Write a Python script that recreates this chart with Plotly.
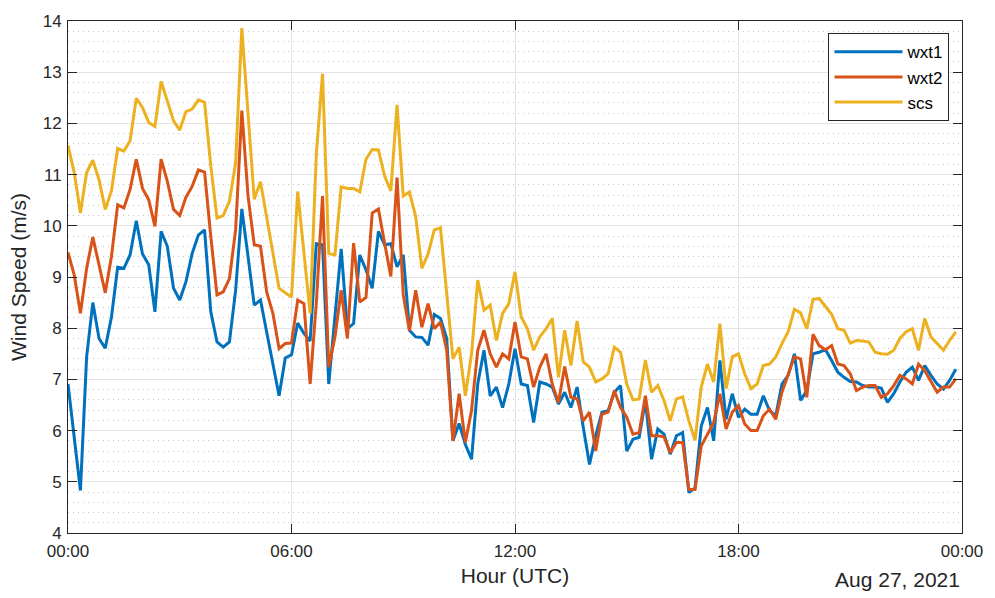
import pandas as pd
import plotly.graph_objects as go

# 10-minute wind speed samples for 27 Aug 2021 (UTC), m/s
start = "2021-08-27 00:00"
n_samples = 144

wxt1 = [6.91, 5.9, 4.83, 7.44, 8.5, 7.8, 7.61, 8.22, 9.19, 9.17,
        9.43, 10.1, 9.45, 9.24, 8.32, 9.89, 9.6, 8.78, 8.55, 8.91,
        9.46, 9.82, 9.92, 8.32, 7.73, 7.63, 7.73, 8.74, 10.33, 9.4,
        8.45, 8.55, 7.96, 7.3, 6.68, 7.42, 7.48, 8.1, 7.9, 7.75,
        9.65, 9.63, 6.91, 8.2, 9.55, 7.99, 8.09, 9.43, 9.14, 8.78,
        9.89, 9.63, 9.65, 9.2, 9.43, 7.96, 7.83, 7.82, 7.67, 8.27,
        8.19, 7.8, 5.8, 6.14, 5.73, 5.44, 6.91, 7.57, 6.68, 6.85,
        6.45, 6.91, 7.6, 6.91, 6.88, 6.16, 6.95, 6.91, 6.85, 6.52,
        6.75, 6.45, 6.85, 6.06, 5.34, 5.9, 6.36, 6.39, 6.75, 6.88,
        5.6, 5.83, 5.87, 6.59, 5.44, 6.03, 5.93, 5.54, 5.9, 5.96,
        4.79, 4.88, 6.09, 6.45, 5.8, 7.37, 6.22, 6.72, 6.26, 6.42,
        6.32, 6.32, 6.68, 6.39, 6.29, 6.91, 7.08, 7.5, 6.59, 6.78,
        7.5, 7.53, 7.58, 7.37, 7.14, 7.04, 6.96, 6.95, 6.88, 6.85,
        6.85, 6.83, 6.55, 6.72, 6.95, 7.14, 7.24, 6.98, 7.27, 7.08,
        6.91, 6.81, 6.98, 7.2]

wxt2 = [9.48, 9.04, 8.29, 9.17, 9.78, 9.24, 8.69, 9.4, 10.41, 10.35,
        10.71, 11.3, 10.73, 10.51, 9.99, 11.3, 10.87, 10.32, 10.2, 10.56,
        10.77, 11.09, 11.05, 9.79, 8.65, 8.71, 8.97, 9.92, 12.25, 10.58,
        9.63, 9.6, 8.71, 8.29, 7.6, 7.7, 7.71, 8.55, 8.48, 6.91,
        8.5, 10.58, 7.24, 7.83, 8.74, 7.8, 9.66, 8.51, 8.6, 10.25,
        10.33, 9.66, 9.01, 10.94, 8.65, 7.95, 8.74, 8.02, 8.48, 7.99,
        8.12, 7.57, 5.8, 6.72, 5.77, 6.39, 7.57, 7.96, 7.5, 7.24,
        7.5, 7.4, 8.12, 7.44, 7.4, 6.85, 7.24, 7.5, 6.91, 6.55,
        7.25, 6.65, 6.62, 6.19, 6.36, 5.6, 6.32, 6.36, 6.78, 6.45,
        6.26, 5.93, 5.96, 6.68, 5.9, 5.9, 5.88, 5.57, 5.77, 5.77,
        4.85, 4.85, 5.7, 5.93, 6.16, 6.72, 6.03, 6.36, 6.49, 6.13,
        6.0, 6.0, 6.29, 6.42, 6.22, 6.75, 7.08, 7.44, 7.4, 6.65,
        7.88, 7.66, 7.58, 7.66, 7.3, 7.27, 7.11, 6.78, 6.85, 6.88,
        6.88, 6.65, 6.72, 6.88, 7.08, 7.01, 6.91, 7.3, 7.17, 6.95,
        6.75, 6.85, 6.85, 7.01]

scs = [11.57, 11.04, 10.25, 11.04, 11.28, 10.9, 10.32, 10.68, 11.51, 11.46,
       11.66, 12.49, 12.31, 12.02, 11.94, 12.82, 12.44, 12.05, 11.87, 12.23,
       12.28, 12.46, 12.41, 11.17, 10.15, 10.2, 10.48, 11.23, 13.86, 12.2,
       10.52, 10.86, 10.18, 9.53, 8.78, 8.69, 8.61, 10.67, 9.53, 8.29,
       11.4, 12.97, 9.46, 9.43, 10.76, 10.73, 10.73, 10.66, 11.3, 11.49,
       11.48, 10.97, 10.68, 12.36, 10.58, 10.66, 10.18, 9.17, 9.45, 9.92,
       9.96, 8.6, 7.4, 7.63, 6.68, 7.5, 8.94, 8.35, 8.45, 7.76,
       8.29, 8.48, 9.1, 8.22, 7.99, 7.57, 7.83, 7.99, 8.19, 7.04,
       7.96, 7.27, 8.14, 7.34, 7.24, 6.95, 7.01, 7.11, 7.63, 7.53,
       6.91, 6.6, 6.62, 7.38, 6.75, 6.88, 6.59, 6.19, 6.62, 6.66,
       6.19, 5.81, 6.85, 7.3, 6.95, 8.09, 6.82, 7.44, 7.5, 7.11,
       6.82, 6.91, 7.27, 7.3, 7.44, 7.7, 7.93, 8.37, 8.3, 7.99,
       8.56, 8.58, 8.42, 8.27, 7.99, 7.96, 7.71, 7.76, 7.75, 7.73,
       7.53, 7.5, 7.49, 7.57, 7.8, 7.93, 7.99, 7.57, 8.19, 7.83,
       7.7, 7.57, 7.76, 7.93]

series_names = ["wxt1", "wxt2", "scs"]
series_colors = ["#0072BD", "#D95319", "#EDB120"]

times = pd.date_range(start, periods=n_samples, freq="10min")

FONT = "Liberation Sans, Arial, Helvetica, sans-serif"
INK = "#262626"

fig = go.Figure()
for name, values, color in zip(series_names, [wxt1, wxt2, scs], series_colors):
    fig.add_trace(go.Scatter(x=times, y=values, name=name, mode="lines",
                             line=dict(color=color, width=3)))

axis_common = dict(
    showline=True, linecolor=INK, linewidth=1, mirror="allticks",
    ticks="inside", ticklen=9, tickcolor=INK, tickwidth=1,
    showgrid=True, gridcolor="#e4e4e4", gridwidth=1,
    zeroline=False, tickfont=dict(family=FONT, size=17, color=INK),
)

fig.update_xaxes(
    **axis_common,
    range=[pd.Timestamp("2021-08-27 00:00"), pd.Timestamp("2021-08-28 00:00")],
    dtick=6 * 3600 * 1000, tickformat="%H:%M", ticklabelstandoff=3,
    title=dict(text="Hour (UTC)", font=dict(family=FONT, size=21, color=INK),
               standoff=7),
)
fig.update_yaxes(
    **axis_common,
    range=[4, 14], dtick=1, ticklabelstandoff=2,
    minor=dict(dtick=0.2, showgrid=True, gridcolor="#c4c4c4",
               griddash="1px,4px", gridwidth=1, ticklen=0),
    title=dict(text="Wind Speed (m/s)", font=dict(family=FONT, size=21, color=INK),
               standoff=10),
)

fig.add_annotation(text="Aug 27, 2021", xref="paper", yref="paper",
                   x=1.0, y=0, xanchor="right", yanchor="top", yshift=-33,
                   showarrow=False, font=dict(family=FONT, size=21, color=INK))

fig.update_layout(
    width=995, height=598,
    margin=dict(l=68, r=31, t=16, b=65),
    paper_bgcolor="white", plot_bgcolor="white",
    font=dict(family=FONT, size=17, color=INK),
    legend=dict(x=0.986, y=0.976, xanchor="right", yanchor="top",
                bgcolor="white", bordercolor=INK, borderwidth=1,
                font=dict(family=FONT, size=17, color="black"),
                itemwidth=68, tracegroupgap=0),
    showlegend=True,
)

fig.write_html("out.html")
